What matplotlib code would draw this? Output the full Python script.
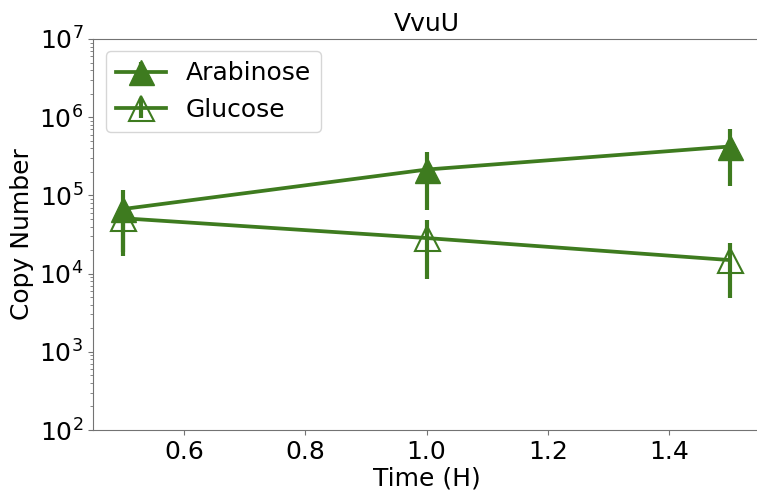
import matplotlib
matplotlib.use("Agg")
import matplotlib.pyplot as plt
from matplotlib.legend_handler import HandlerErrorbar

time = [0.5, 1.0, 1.5]
arabinose = [67000, 214000, 422000]
arabinose_err = [50000, 148000, 290000]
glucose = [51000, 28500, 14900]
glucose_err = [32000, 20000, 10000]

green = "#3e7b1f"
plt.rcParams["font.size"] = 18
plt.rcParams["font.family"] = "DejaVu Sans"

fig = plt.figure(figsize=(7.57, 4.93), dpi=100)
ax = fig.add_axes([93 / 757, 63 / 493, 667 / 757, 391 / 493])

ax.errorbar(time, arabinose, yerr=arabinose_err, color=green, marker="^",
            markersize=18, linewidth=2.7, elinewidth=3, label="Arabinose")
ax.errorbar(time, glucose, yerr=glucose_err, color=green, marker="^",
            markersize=18, markerfacecolor="none", markeredgewidth=1.5,
            linewidth=2.7, elinewidth=3, label="Glucose")

ax.set_yscale("log")
ax.set_ylim(1e2, 1e7)
ax.set_xlim(0.45, 1.55)
ax.set_xticks([0.6, 0.8, 1.0, 1.2, 1.4])
ax.set_title("VvuU", fontsize=18)
ax.set_xlabel("Time (H)", fontsize=18, labelpad=2)
ax.set_ylabel("Copy Number", fontsize=18)

for s in ax.spines.values():
    s.set_color("0.45")
# right edge of the frame is cut off in the original
ax.spines["right"].set_visible(False)
ax.tick_params(which="both", colors="0.45", labelcolor="black")
ax.tick_params(labelsize=18)

ax.legend(loc="upper left", fontsize=18,
          handler_map={type(ax.containers[0]): HandlerErrorbar(xerr_size=0, yerr_size=0.4)})

fig.savefig("out.png", dpi=100)
